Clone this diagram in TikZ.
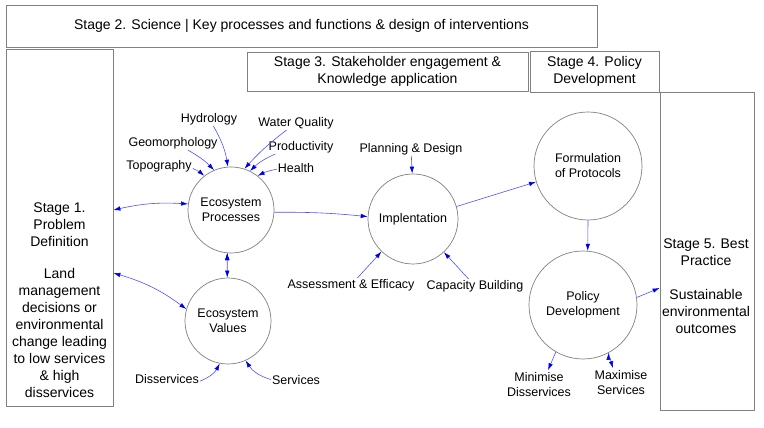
\documentclass[tikz,border=0pt]{standalone}
\usepackage{fontspec}
\setmainfont{Liberation Sans}
\usetikzlibrary{arrows.meta, positioning, calc}

\definecolor{linkblue}{RGB}{80,80,255}
\definecolor{tipblue}{RGB}{0,0,230}
\definecolor{framegray}{RGB}{128,128,128}

\begin{document}
\begin{tikzpicture}[x=1pt, y=1pt,
    stagebox/.style={draw=framegray, line width=0.8pt, inner sep=0pt, align=center, font=\fontsize{14}{17}\selectfont},
    stagetext/.style={align=center, font=\fontsize{14}{17}\selectfont},
    bubble/.style={circle, draw=framegray, line width=0.7pt, inner sep=0pt, align=center, font=\fontsize{12.5}{15}\selectfont},
    tag/.style={align=center, inner sep=1pt, font=\fontsize{12.5}{15}\selectfont},
    link/.style={draw=linkblue, line width=0.6pt, >={Latex[length=7pt,width=4.5pt,color=tipblue]}, ->}]
  \useasboundingbox (0,0) rectangle (764,428);

  % stages
  \node[stagebox, minimum width=591pt, minimum height=42pt] (s2) at (301.5,402) {Stage 2. Science | Key processes and functions \& design of interventions};
  \node[stagebox, minimum width=107pt, minimum height=357pt] (s1) at (59.5,200.5) {};
  \node[stagetext] (s1text) at (59.5,128) {Stage 1.\\ Problem\\ Definition\\[15pt] Land\\ management\\ decisions or\\ environmental\\ change leading\\ to low services\\ \& high\\ disservices};
  \node[stagebox, minimum width=281pt, minimum height=39pt] (s3) at (387.5,356.5) {Stage 3. Stakeholder engagement \&\\ Knowledge application};
  \node[stagebox, minimum width=129pt, minimum height=41pt] (s4) at (594.5,356.5) {Stage 4. Policy\\ Development};
  \node[stagebox, minimum width=94pt, minimum height=318pt] (s5) at (707,177) {};
  \node[stagetext] (s5text) at (706,142) {Stage 5. Best\\ Practice\\[17pt] Sustainable\\ environmental\\ outcomes};

  % processes
  \node[bubble, minimum size=86pt] (ep) at (231,218) {Ecosystem\\ Processes};
  \node[bubble, minimum size=86pt] (ev) at (228,107) {Ecosystem\\ Values};
  \node[bubble, minimum size=90pt] (impl) at (413,209) {Implentation};
  \node[bubble, minimum size=108pt] (form) at (588,262) {Formulation\\ of Protocols};
  \node[bubble, minimum size=108pt] (pol) at (583,123) {Policy\\ Development};

  % inputs and outputs
  \node[tag] (hyd) at (209,309) {Hydrology};
  \node[tag] (wq) at (296,305) {Water Quality};
  \node[tag] (geo) at (173,285) {Geomorphology};
  \node[tag] (prod) at (301,281) {Productivity};
  \node[tag] (topo) at (159,262) {Topography};
  \node[tag] (health) at (296,260) {Health};
  \node[tag] (plan) at (411,279) {Planning \& Design};
  \node[tag] (assess) at (351,143) {Assessment \& Efficacy};
  \node[tag] (cap) at (475,142) {Capacity Building};
  \node[tag] (diss) at (167,49) {Disservices};
  \node[tag] (serv) at (296,48) {Services};
  \node[tag] (mini) at (539,43.5) {Minimise\\ Disservices};
  \node[tag] (maxi) at (621,45.5) {Maximise\\ Services};

  \path[link]
    (hyd) edge[bend left=10] (ep.94)
    (wq) edge[bend right=5] (ep.72)
    (geo) edge[bend left=8] (ep.113)
    (prod) edge[bend right=10] (ep.64)
    (topo) edge[bend left=8] (ep.128)
    (health) edge[bend right=8] (ep.52)
    (ep.-3) edge[bend left=3] (impl.177)
    (plan) edge (impl.91)
    (assess) edge (impl.226)
    (cap) edge (impl.313)
    (impl.16) edge (form.197)
    (form.270) edge (pol.85)
    (pol.8) edge ([yshift=-37pt]s5.west)
    (pol.240) edge ([xshift=9pt,yshift=1pt]mini.north)
    (pol.298) edge ([xshift=-8pt,yshift=1pt]maxi.north)
    (diss) edge[bend right=20] (ev.259)
    (serv) edge[bend left=20] (ev.294);
  \path[link, <->]
    (s1.east |- ep) edge[bend left=8] (ep.172)
    ([yshift=-45.5pt]s1.east) edge[bend left=10] (ev.164)
    (ep.265) edge (ev.91);
\end{tikzpicture}
\end{document}
